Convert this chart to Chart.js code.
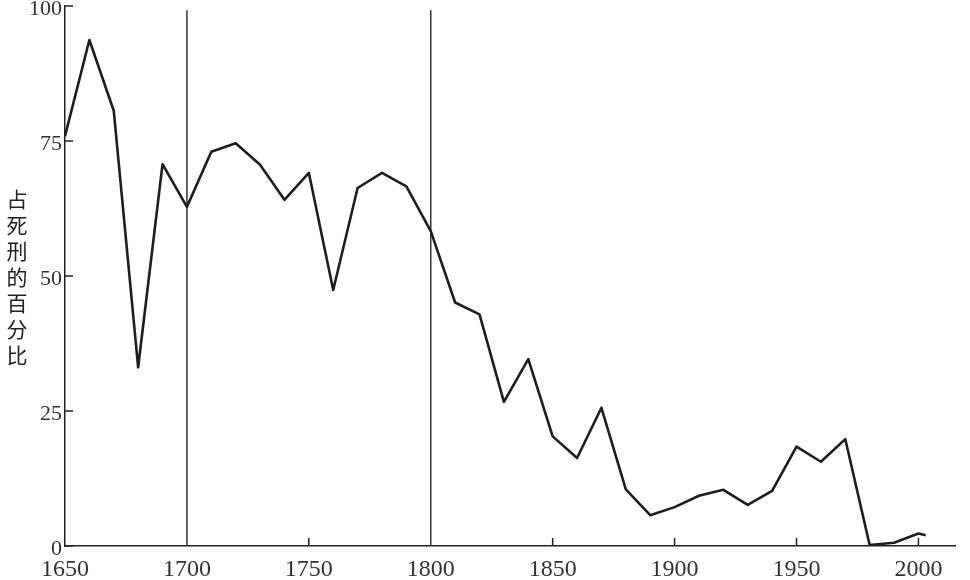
<!DOCTYPE html>
<html>
<head>
<meta charset="utf-8">
<script src="https://cdn.jsdelivr.net/npm/chart.js@4/dist/chart.umd.min.js"></script>
<style>
  html, body { margin: 0; padding: 0; background: #fff; }
  #wrap { position: relative; width: 970px; height: 580px; }
  #ytitle {
    position: absolute; left: 6px; top: 189px;
    writing-mode: vertical-rl; text-orientation: upright;
    font-family: "Noto Sans CJK SC", sans-serif; font-size: 21px;
    letter-spacing: 5px; color: #222; line-height: 22px;
  }
</style>
</head>
<body>
<div id="wrap">
  <canvas id="c" width="970" height="580"></canvas>
  <div id="ytitle">占死刑的百分比</div>
</div>
<script>
const years = [1650,1660,1670,1680,1690,1700,1710,1720,1730,1740,1750,1760,1770,1780,1790,1800,1810,1820,1830,1840,1850,1860,1870,1880,1890,1900,1910,1920,1930,1940,1950,1960,1970,1980,1990,2000,2003];
const percents = [75.9,93.7,80.6,33.1,70.7,62.8,73.0,74.6,70.6,64.1,69.1,47.4,66.3,69.1,66.6,58.3,45.1,42.9,26.7,34.6,20.3,16.3,25.6,10.5,5.7,7.2,9.3,10.4,7.6,10.2,18.4,15.6,19.8,0.2,0.6,2.3,2.0];
const markerYears = [1700, 1800];
const markerTop = 99.2;
const xTickLabels = [1650,1700,1750,1800,1850,1900,1950,2000];
const yTickLabels = [0,25,50,75,100];

const mainData = years.map((y, i) => ({x: y, y: percents[i]}));
const markerSets = markerYears.map(yr => ({
  data: [{x: yr, y: 0}, {x: yr, y: markerTop}],
  borderColor: '#333', borderWidth: 1.5, pointRadius: 0, tension: 0
}));

const innerTicks = {
  id: 'innerTicks',
  afterDraw(chart) {
    const ctx = chart.ctx, xs = chart.scales.x, ys = chart.scales.y;
    const a = chart.chartArea;
    ctx.save();
    ctx.strokeStyle = '#222'; ctx.lineWidth = 1.5;
    yTickLabels.forEach(v => {
      const py = ys.getPixelForValue(v);
      ctx.beginPath(); ctx.moveTo(a.left, py); ctx.lineTo(a.left + 8, py); ctx.stroke();
    });
    xTickLabels.forEach(v => {
      if (markerYears.includes(v) || v === xTickLabels[0]) return;
      const px = xs.getPixelForValue(v);
      ctx.beginPath(); ctx.moveTo(px, a.bottom); ctx.lineTo(px, a.bottom - 8); ctx.stroke();
    });
    ctx.restore();
  }
};

new Chart(document.getElementById('c'), {
  type: 'line',
  data: {
    datasets: [
      { data: mainData, borderColor: '#1e1e1e', borderWidth: 2.6, borderJoinStyle: 'round', pointRadius: 0, tension: 0 },
      ...markerSets
    ]
  },
  options: {
    responsive: false, animation: false,
    layout: { padding: { top: 6, right: 15, left: 0, bottom: 0 } },
    plugins: { legend: { display: false }, tooltip: { enabled: false } },
    scales: {
      x: {
        type: 'linear', min: 1650, max: 2015,
        afterBuildTicks: s => { s.ticks = xTickLabels.map(v => ({value: v})); },
        afterFit: s => { s.height = 34; s.paddingLeft = 0; s.paddingRight = 0; },
        grid: { display: false, drawTicks: false },
        border: { display: true, color: '#222', width: 1.5 },
        ticks: { padding: 9, maxRotation: 0, autoSkip: false, color: '#333',
                 callback: v => String(v),
                 font: { family: '"Liberation Serif", serif', size: 24 } }
      },
      y: {
        min: 0, max: 100,
        afterBuildTicks: s => { s.ticks = yTickLabels.map(v => ({value: v})); },
        afterFit: s => { s.width = 65; s.paddingTop = 0; s.paddingBottom = 0; },
        grid: { display: false, drawTicks: false },
        border: { display: true, color: '#222', width: 1.5 },
        ticks: { padding: 3, labelOffset: 3, color: '#333',
                 callback: v => String(v),
                 font: { family: '"Liberation Serif", serif', size: 22 } }
      }
    }
  },
  plugins: [innerTicks]
});
</script>
</body>
</html>
